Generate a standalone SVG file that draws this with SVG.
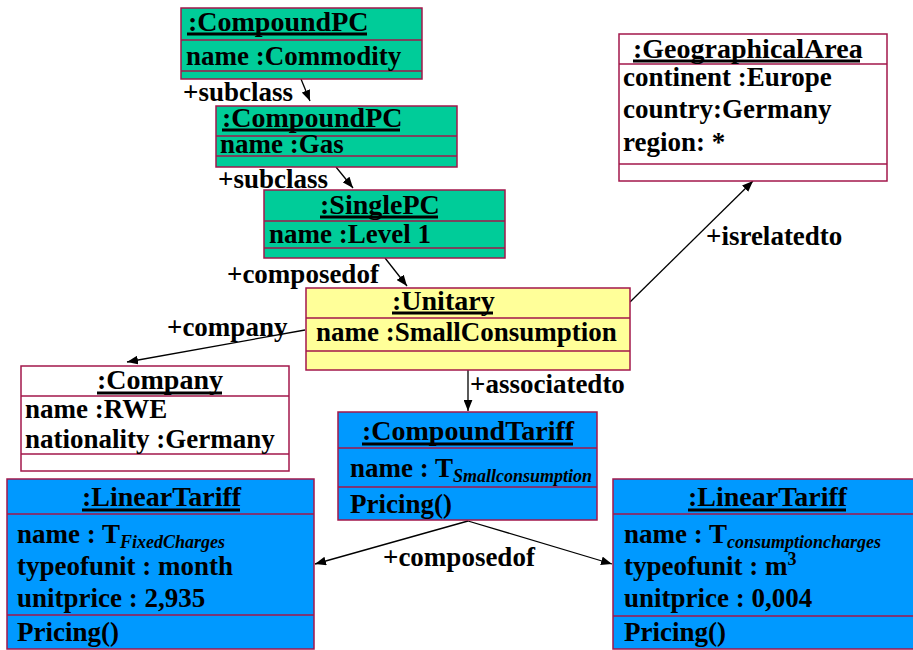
<svg xmlns="http://www.w3.org/2000/svg" width="913" height="650" viewBox="0 0 913 650">
<defs>
<marker id="arr" viewBox="0 0 10 8" refX="10" refY="4" markerWidth="11" markerHeight="9" markerUnits="userSpaceOnUse" orient="auto"><path d="M0,0 L10,4 L0,8 z" fill="#000"/></marker>
</defs>
<style>
text{font-family:"Liberation Serif","Times New Roman",serif;font-weight:bold;font-size:27px;fill:#000}
text.t{font-size:28px}
.frame{stroke:#A3174B;stroke-width:1.5}
.div{stroke:#A3174B;stroke-width:1.5;fill:none}
.green{fill:#00CC99}.yellow{fill:#FFFF99}.blue{fill:#0099FF}.white{fill:#FFFFFF}
.ul{stroke:#000;stroke-width:3}
.conn line{stroke:#000;stroke-width:1.3;marker-end:url(#arr)}
.sub{font-style:italic;font-size:18px}
.sup{font-size:18px}
</style>
<rect width="913" height="650" fill="#fff"/>
<g class="conn" id="connectors">
<line x1="301" y1="79" x2="310" y2="101"/>
<line x1="336" y1="167" x2="353" y2="188"/>
<line x1="385" y1="258" x2="407" y2="286"/>
<line x1="305" y1="330" x2="127" y2="362"/>
<line x1="630" y1="302" x2="753" y2="181"/>
<line x1="468" y1="370" x2="468" y2="411"/>
<line x1="468" y1="521" x2="315" y2="564"/>
<line x1="468" y1="521" x2="612" y2="564"/>
</g>
<g id="labels">
<text x="183" y="101">+subclass</text>
<text x="218" y="188">+subclass</text>
<text x="227" y="283">+composedof</text>
<text x="167" y="336">+company</text>
<text x="706" y="245">+isrelatedto</text>
<text x="470" y="393">+associatedto</text>
<text x="383" y="566">+composedof</text>
</g>
<g id="compoundpc-commodity">
<rect class="frame green" x="181" y="8" width="241" height="71"/>
<path class="div" d="M181 40H422M181 71H422"/>
<text class="t" x="188" y="31">:CompoundPC</text>
<line class="ul" x1="187" y1="34" x2="367" y2="34"/>
<text x="186" y="65">name :Commodity</text>
</g>
<g id="compoundpc-gas">
<rect class="frame green" x="216" y="106" width="241" height="61"/>
<path class="div" d="M216 136H457M216 156H457"/>
<text class="t" x="222" y="127">:CompoundPC</text>
<line class="ul" x1="222" y1="130" x2="400" y2="130"/>
<text x="220" y="153">name :Gas</text>
</g>
<g id="singlepc">
<rect class="frame green" x="264" y="190" width="241" height="68"/>
<path class="div" d="M264 221H505M264 248H505"/>
<text class="t" x="320" y="214">:SinglePC</text>
<line class="ul" x1="320" y1="217" x2="438" y2="217"/>
<text x="269" y="243">name :Level 1</text>
</g>
<g id="unitary">
<rect class="frame yellow" x="306" y="288" width="324" height="82"/>
<path class="div" d="M306 318H630M306 351H630"/>
<text class="t" x="392" y="310">:Unitary</text>
<line class="ul" x1="392" y1="313" x2="493" y2="313"/>
<text x="316" y="341">name :SmallConsumption</text>
</g>
<g id="geographicalarea">
<rect class="frame white" x="619" y="34" width="268" height="147"/>
<path class="div" d="M619 64H887M619 164H887"/>
<text class="t" x="633" y="58">:GeographicalArea</text>
<line class="ul" x1="633" y1="61" x2="860" y2="61"/>
<text x="623" y="86">continent :Europe</text>
<text x="623" y="118">country:Germany</text>
<text x="623" y="151">region: *</text>
</g>
<g id="company">
<rect class="frame white" x="21" y="366" width="268" height="105"/>
<path class="div" d="M21 396H289M21 454H289"/>
<text class="t" x="97" y="389">:Company</text>
<line class="ul" x1="97" y1="393" x2="222" y2="393"/>
<text x="25" y="418">name :RWE</text>
<text x="25" y="448">nationality :Germany</text>
</g>
<g id="compoundtariff">
<rect class="frame blue" x="338" y="412" width="259" height="108"/>
<path class="div" d="M338 448H597M338 487H597"/>
<text class="t" x="362" y="440">:CompoundTariff</text>
<line class="ul" x1="362" y1="444" x2="573" y2="444"/>
<text x="350" y="477">name : T<tspan class="sub" dy="5">Smallconsumption</tspan></text>
<text x="350" y="513">Pricing()</text>
</g>
<g id="lineartariff-fixed">
<rect class="frame blue" x="7" y="479" width="307" height="170"/>
<path class="div" d="M7 514H314M7 615H314"/>
<text class="t" x="82" y="506">:LinearTariff</text>
<line class="ul" x1="82" y1="510" x2="240" y2="510"/>
<text x="17" y="543">name : T<tspan class="sub" dy="5">FixedCharges</tspan></text>
<text x="17" y="575">typeofunit : month</text>
<text x="17" y="607">unitprice : 2,935</text>
<text x="17" y="641">Pricing()</text>
</g>
<g id="lineartariff-consumption">
<rect class="frame blue" x="613" y="479" width="310" height="170"/>
<path class="div" d="M613 514H913M613 616H913"/>
<text class="t" x="688" y="506">:LinearTariff</text>
<line class="ul" x1="688" y1="510" x2="846" y2="510"/>
<text x="624" y="543">name : T<tspan class="sub" dy="5">consumptioncharges</tspan></text>
<text x="624" y="575">typeofunit : m<tspan class="sup" dy="-10">3</tspan></text>
<text x="624" y="607">unitprice : 0,004</text>
<text x="624" y="641">Pricing()</text>
</g>
</svg>
